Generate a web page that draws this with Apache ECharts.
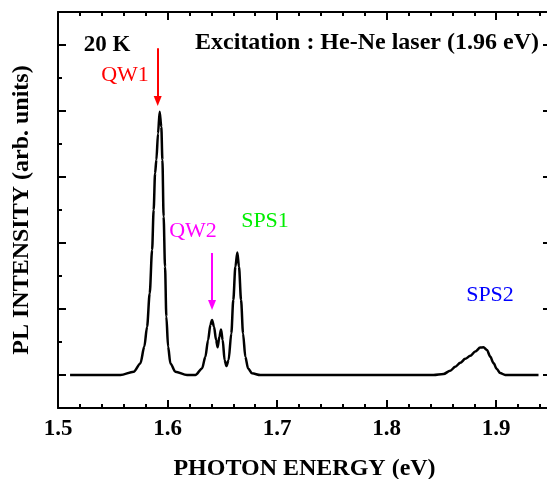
<!DOCTYPE html>
<html>
<head>
<meta charset="utf-8">
<script src="https://cdn.jsdelivr.net/npm/echarts@6/dist/echarts.min.js"></script>
<style>
  html, body { margin: 0; padding: 0; background: #fff; }
  #chart { width: 547px; height: 479px; }
</style>
</head>
<body>
<div id="chart"></div>
<script>
// PL spectrum (eV, arb. units, baseline = 1)
var energy = [
  1.511, 1.530, 1.550, 1.557, 1.5691, 1.5752, 1.5788, 1.5813, 1.5837, 1.5859,
  1.5873, 1.5886, 1.5898, 1.5913, 1.5928, 1.5943, 1.5953, 1.5964, 1.5977, 1.5989,
  1.6005, 1.6026, 1.6071, 1.6178,
  1.6254, 1.6315, 1.6345, 1.6370, 1.6391, 1.6406, 1.6424, 1.6443, 1.6457, 1.6473,
  1.6488, 1.6503, 1.6521, 1.6537, 1.6557, 1.6582, 1.6600, 1.6619, 1.6637, 1.6652,
  1.6671, 1.6689, 1.6710, 1.6735, 1.6771, 1.6847,
  1.720, 1.780,
  1.8428, 1.8519, 1.8580, 1.8626, 1.8672, 1.8717, 1.8763, 1.8808, 1.8854, 1.8884,
  1.8915, 1.8945, 1.8975, 1.9006, 1.9036, 1.9082, 1.9386
];
var intensity = [
  1.00, 1.00, 1.00, 1.00, 1.10, 1.35, 1.86, 2.46, 3.47, 4.79,
  6.00, 7.11, 7.52, 8.32, 8.98, 8.52, 7.52, 5.80, 4.28, 2.77,
  1.86, 1.35, 1.10, 1.00,
  1.00, 1.20, 1.55, 2.06, 2.52, 2.67, 2.46, 2.06, 1.84, 2.16,
  2.38, 2.06, 1.45, 1.27, 1.45, 2.26, 3.27, 4.28, 4.71, 4.28,
  3.27, 2.26, 1.55, 1.20, 1.05, 1.00,
  1.00, 1.00,
  1.00, 1.03, 1.13, 1.25, 1.37, 1.49, 1.58, 1.71, 1.83, 1.84,
  1.76, 1.56, 1.36, 1.18, 1.06, 1.00, 1.00
];

var xMajor = [1.5, 1.6, 1.7, 1.8, 1.9];
var xMinor = [1.52, 1.54, 1.56, 1.58, 1.62, 1.64, 1.66, 1.68, 1.72, 1.74, 1.76, 1.78,
              1.82, 1.84, 1.86, 1.88, 1.92, 1.94];
var yMajor = [1, 3, 5, 7, 9, 11];
var yMinor = [2, 4, 6, 8, 10];

// arrows: [energy, from, to]
var arrowQW1 = [1.591, 10.9, 9.30];
var arrowQW2 = [1.6406, 4.70, 3.12];

var serif = '"Liberation Serif", "Times New Roman", serif';

var chart = echarts.init(document.getElementById('chart'));

function tickAxis(pos, values, len, withLine, isX) {
  var a = {
    type: 'value',
    position: pos,
    axisLine: { show: withLine, onZero: false, lineStyle: { color: '#000', width: 2 } },
    axisTick: { show: true, inside: true, length: len, customValues: values,
                lineStyle: { color: '#000', width: 2 } },
    axisLabel: { show: false },
    splitLine: { show: false }
  };
  if (isX) { a.min = 1.5; a.max = 1.95; } else { a.min = 0; a.max = 12; }
  return a;
}

var xBottom = tickAxis('bottom', xMajor, 8, true, true);
xBottom.axisLabel = {
  show: true, customValues: xMajor, margin: 10,
  fontFamily: serif, fontWeight: 'bold', fontSize: 23, color: '#000',
  formatter: function (v) { return v.toFixed(1); }
};
xBottom.name = 'PHOTON ENERGY (eV)';
xBottom.nameLocation = 'middle';
xBottom.nameGap = 49;
xBottom.nameTextStyle = { fontFamily: serif, fontWeight: 'bold', fontSize: 24, color: '#000' };

var yLeft = tickAxis('left', yMajor, 8, true, false);
yLeft.name = 'PL INTENSITY (arb. units)';
yLeft.nameLocation = 'middle';
yLeft.nameGap = 24;
yLeft.nameTextStyle = { fontFamily: serif, fontWeight: 'bold', fontSize: 24, color: '#000' };

var option = {
  animation: false,
  backgroundColor: '#fff',
  grid: { left: 58, top: 12, right: -4, bottom: 71, outerBoundsMode: 'none' },
  xAxis: [
    xBottom,
    tickAxis('bottom', xMinor, 4, false, true),
    tickAxis('top', xMajor, 8, true, true),
    tickAxis('top', xMinor, 4, false, true)
  ],
  yAxis: [
    yLeft,
    tickAxis('left', yMinor, 4, false, false),
    tickAxis('right', yMajor, 8, true, false)
  ],
  series: [{
    type: 'line',
    data: energy.map(function (e, i) { return [e, intensity[i]]; }),
    showSymbol: false,
    smooth: 0.3,
    smoothMonotone: 'x',
    lineStyle: { color: '#000', width: 2.5 },
    markLine: {
      silent: true,
      symbol: ['none', 'triangle'],
      symbolSize: [8, 10],
      label: { show: false },
      data: [
        [{ coord: [arrowQW1[0], arrowQW1[1]], lineStyle: { color: '#ff0000', width: 2, type: 'solid' } },
         { coord: [arrowQW1[0], arrowQW1[2]] }],
        [{ coord: [arrowQW2[0], arrowQW2[1]], lineStyle: { color: '#ff00ff', width: 2, type: 'solid' } },
         { coord: [arrowQW2[0], arrowQW2[2]] }]
      ]
    }
  }],
  graphic: [
    { type: 'text', x: 107, y: 45, style: { text: '20 K', fill: '#000',
      font: 'bold 23px ' + serif, align: 'center', verticalAlign: 'middle' } },
    { type: 'text', x: 125, y: 75, style: { text: 'QW1', fill: '#ff0000',
      font: '22px ' + serif, align: 'center', verticalAlign: 'middle' } },
    { type: 'text', x: 367, y: 43, style: { text: 'Excitation : He-Ne laser (1.96 eV)', fill: '#000',
      font: 'bold 24px ' + serif, align: 'center', verticalAlign: 'middle' } },
    { type: 'text', x: 193, y: 231, style: { text: 'QW2', fill: '#ff00ff',
      font: '22px ' + serif, align: 'center', verticalAlign: 'middle' } },
    { type: 'text', x: 265, y: 221, style: { text: 'SPS1', fill: '#00ee00',
      font: '22px ' + serif, align: 'center', verticalAlign: 'middle' } },
    { type: 'text', x: 490, y: 295, style: { text: 'SPS2', fill: '#0000ff',
      font: '22px ' + serif, align: 'center', verticalAlign: 'middle' } }
  ]
};

chart.setOption(option);
</script>
</body>
</html>
